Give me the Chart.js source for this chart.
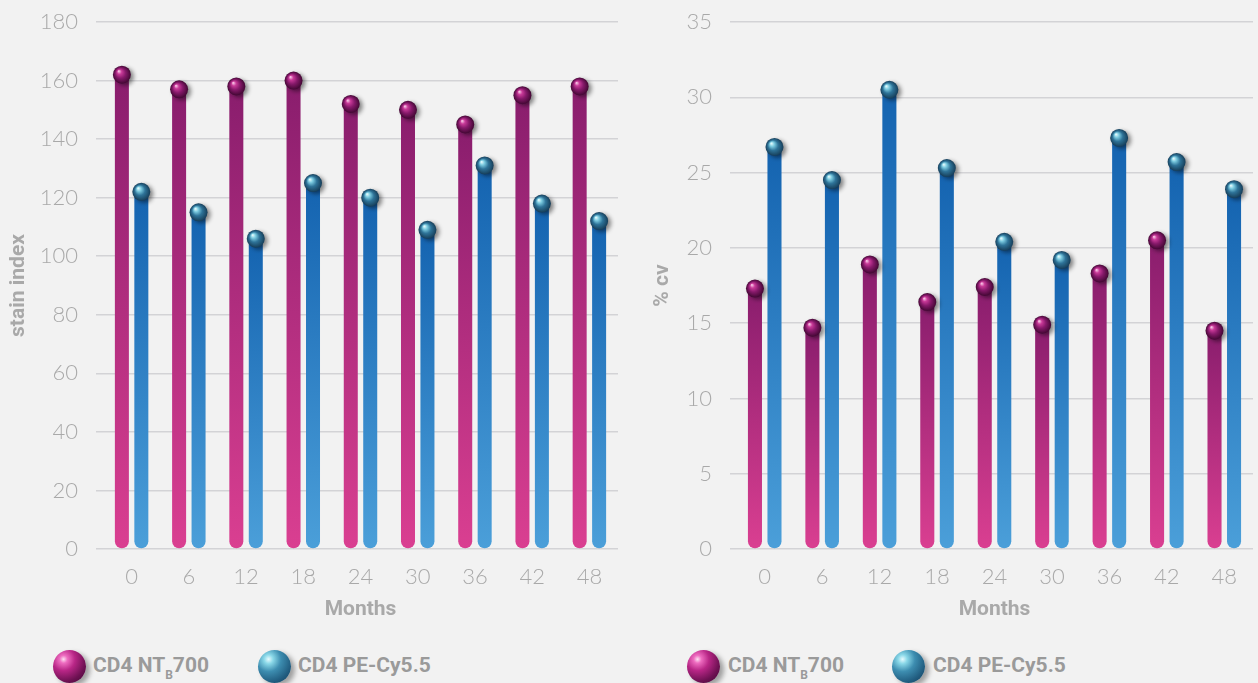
<!DOCTYPE html>
<html>
<head>
<meta charset="utf-8">
<script src="https://cdn.jsdelivr.net/npm/chart.js@4/dist/chart.umd.min.js"></script>
<style>
  body { margin: 0; background: #f2f2f2; width: 1258px; height: 683px; overflow: hidden; position: relative; font-family: "Roboto", sans-serif; }
  .box { position: absolute; top: 0; width: 629px; height: 640px; }
  .legend { position: absolute; top: 650px; left: 0; width: 1258px; height: 34px; }
  .ball { position: absolute; top: 0; width: 33px; height: 33px; border-radius: 50%; box-shadow: 4px 3px 5px rgba(0,0,0,0.35); }
  .ball.pink { background: radial-gradient(circle at 32% 28%, #fde0f2 0, #ee6cc0 12%, #b82686 35%, #6d1152 68%, #3c0630 100%); }
  .ball.blue { background: radial-gradient(circle at 32% 28%, #e6fbff 0, #8ad8e8 14%, #3d8db0 38%, #215d80 70%, #123a55 100%); }
  .label { position: absolute; top: 3px; white-space: nowrap; font-weight: 700; font-size: 21px; color: #9a9a9a; }
  .label sub { font-size: 12px; vertical-align: -7px; }
</style>
</head>
<body>
<div class="box" style="left:0"><canvas id="stain"></canvas></div>
<div class="box" style="left:629px"><canvas id="cv"></canvas></div>

<div class="legend">
  <div class="ball pink" style="left:53px"></div>
  <div class="label" style="left:93px">CD4 NT<sub>B</sub>700</div>
  <div class="ball blue" style="left:258px"></div>
  <div class="label" style="left:298px">CD4 PE-Cy5.5</div>
  <div class="ball pink" style="left:687px"></div>
  <div class="label" style="left:728px">CD4 NT<sub>B</sub>700</div>
  <div class="ball blue" style="left:892px"></div>
  <div class="label" style="left:933px">CD4 PE-Cy5.5</div>
</div>

<script>
const months = ["0", "6", "12", "18", "24", "30", "36", "42", "48"];
const seriesNames = ["CD4 NTB700", "CD4 PE-Cy5.5"];

const stainNT = [162, 157, 158, 160, 152, 150, 145, 155, 158];
const stainPE = [122, 115, 106, 125, 120, 109, 131, 118, 112];

const cvNT = [17.3, 14.7, 18.9, 16.4, 17.4, 14.9, 18.3, 20.5, 14.5];
const cvPE = [26.7, 24.5, 30.5, 25.3, 20.4, 19.2, 27.3, 25.7, 23.9];

const barColors = [["#891d6d", "#da3f91"], ["#1463b0", "#4b9fd9"]];
const ballColors = [
  ["#f6bde2", "#c83a98", "#86196a", "#420733"],
  ["#dcf7fb", "#7ccbe0", "#2e7398", "#163d58"]
];

const tickFont = { family: "Lato", size: 22, weight: 300 };
const titleFont = { family: "Roboto", size: 21, weight: "bold" };
const grey = "#a9a9a9";
const gridColor = "#d3d3d6";

function barGradient(c) {
  const chart = c.chart;
  const cols = barColors[c.datasetIndex];
  if (c.type !== "data" || !chart.chartArea) return cols[0];
  const y = chart.scales.y;
  const top = y.getPixelForValue(c.raw);
  const bottom = y.getPixelForValue(0);
  const g = chart.ctx.createLinearGradient(0, top, 0, bottom);
  g.addColorStop(0, cols[0]);
  g.addColorStop(1, cols[1]);
  return g;
}

function drawBall(ctx, x, y, r, cols) {
  ctx.save();
  ctx.shadowColor = "rgba(0,0,0,0.45)";
  ctx.shadowBlur = 4;
  ctx.shadowOffsetX = 3;
  ctx.shadowOffsetY = 2;
  const g = ctx.createRadialGradient(x - r * 0.35, y - r * 0.4, r * 0.05, x, y, r);
  g.addColorStop(0, cols[0]);
  g.addColorStop(0.22, cols[1]);
  g.addColorStop(0.55, cols[2]);
  g.addColorStop(1, cols[3]);
  ctx.fillStyle = g;
  ctx.beginPath();
  ctx.arc(x, y, r, 0, Math.PI * 2);
  ctx.fill();
  ctx.restore();
}

const spheres = {
  id: "spheres",
  afterDatasetsDraw(chart) {
    chart.data.datasets.forEach((ds, i) => {
      chart.getDatasetMeta(i).data.forEach(bar => drawBall(chart.ctx, bar.x, bar.y, 9, ballColors[i]));
    });
  }
};

function barSet(name, values) {
  return {
    label: name,
    data: values,
    backgroundColor: barGradient,
    borderWidth: 0,
    borderSkipped: false,
    borderRadius: { topLeft: 0, topRight: 0, bottomLeft: 7, bottomRight: 7 },
    categoryPercentage: 0.68,
    barPercentage: 0.72
  };
}

function makeChart(id, a, b, max, step, yTitle, yWidth, tickLen, titlePad, padRight) {
  return new Chart(document.getElementById(id), {
    type: "bar",
    data: {
      labels: months,
      datasets: [barSet(seriesNames[0], a), barSet(seriesNames[1], b)]
    },
    options: {
      responsive: true,
      maintainAspectRatio: false,
      animation: false,
      layout: { padding: { top: 22, right: padRight, left: 0, bottom: 0 } },
      plugins: { legend: { display: false }, tooltip: { enabled: false } },
      scales: {
        x: {
          grid: { display: false, drawTicks: false },
          border: { display: false },
          ticks: { color: grey, font: tickFont, padding: 15 },
          title: { display: true, text: "Months", color: grey, font: titleFont, padding: { top: 0, bottom: 18 } },
          afterFit(s) { s.height = 91; }
        },
        y: {
          min: 0,
          max: max,
          ticks: { stepSize: step, color: grey, font: tickFont, padding: 18 },
          grid: { color: gridColor, lineWidth: 1.5, tickLength: tickLen, drawTicks: true },
          border: { display: false },
          title: { display: true, text: yTitle, color: grey, font: titleFont, padding: { top: titlePad, bottom: 0 } },
          afterFit(s) { s.width = yWidth; s.paddingTop = 0; s.paddingBottom = 0; }
        }
      }
    },
    plugins: [spheres]
  });
}

makeChart("stain", stainNT, stainPE, 180, 20, "stain index", 103, 7, 6, 11);
makeChart("cv", cvNT, cvPE, 35, 5, "% cv", 107, 6, 21, 5);
</script>
</body>
</html>
